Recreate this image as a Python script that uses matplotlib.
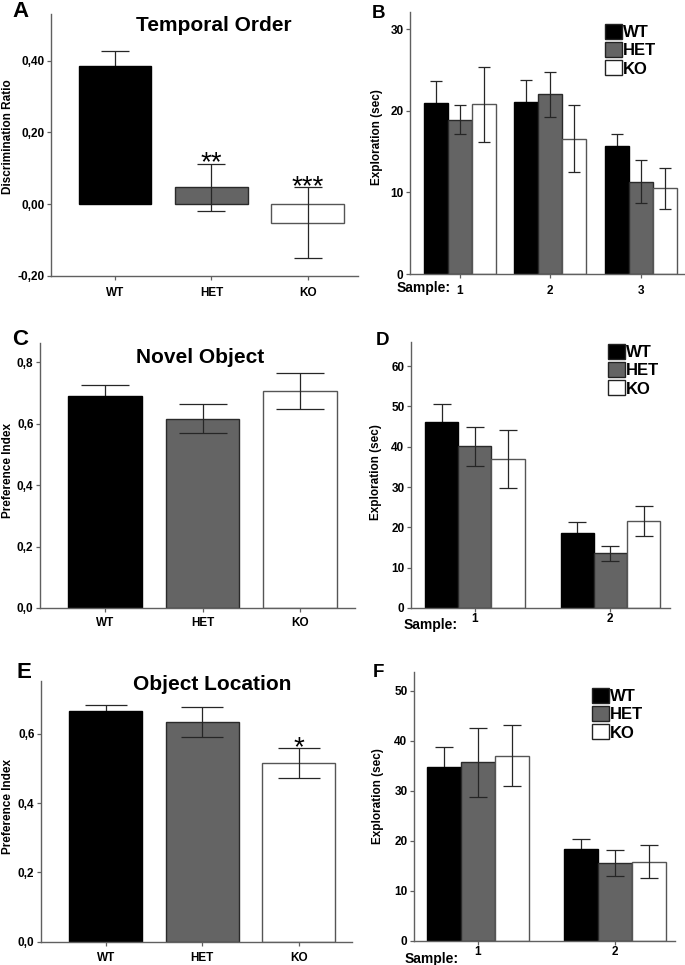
import numpy as np
import matplotlib
matplotlib.use('Agg')
import matplotlib.pyplot as plt
from matplotlib.patches import Patch

plt.rcParams['font.family'] = ['Liberation Sans', 'DejaVu Sans']
plt.rcParams['font.weight'] = 'bold'

#%% data
groups = ['WT', 'HET', 'KO']

temporal_mean = [0.385, 0.047, -0.052]
temporal_err = [0.043, 0.066, 0.099]

samples_b = ['1', '2', '3']
b_wt = [21.0, 21.1, 15.7]
b_wt_err = [2.6, 2.7, 1.4]
b_het = [18.9, 22.0, 11.3]
b_het_err = [1.8, 2.8, 2.65]
b_ko = [20.8, 16.6, 10.5]
b_ko_err = [4.6, 4.05, 2.5]

novel_mean = [0.690, 0.616, 0.706]
novel_err = [0.036, 0.048, 0.059]

samples_d = ['1', '2']
d_wt = [46.1, 18.7]
d_wt_err = [4.5, 2.7]
d_het = [40.1, 13.6]
d_het_err = [4.9, 1.85]
d_ko = [36.9, 21.5]
d_ko_err = [7.2, 3.75]

location_mean = [0.667, 0.635, 0.516]
location_err = [0.018, 0.044, 0.044]

samples_f = ['1', '2']
f_wt = [34.8, 18.3]
f_wt_err = [4.0, 2.0]
f_het = [35.7, 15.5]
f_het_err = [6.9, 2.55]
f_ko = [37.0, 15.8]
f_ko_err = [6.15, 3.35]

#%% style
W, H = 685, 965
fills = ['#000000', '#646464', '#ffffff']
edges = ['#000000', '#2a2a2a', '#555555']
err_z = [1, 3, 3]   # black bars hide the lower whisker
err_col = '#262626'
spine_col = '#606060'

fig = plt.figure(figsize=(W / 100, H / 100), dpi=100)


def make_ax(x0, x1, ytop, ybot):
    ax = fig.add_axes([x0 / W, 1 - ybot / H, (x1 - x0) / W, (ybot - ytop) / H])
    for s in ['top', 'right']:
        ax.spines[s].set_visible(False)
    for s in ['left', 'bottom']:
        ax.spines[s].set_color(spine_col)
        ax.spines[s].set_linewidth(1.0)
    ax.tick_params(colors=spine_col, labelcolor='black', length=3.2, width=0.9,
                   labelsize=8.5)
    ax.tick_params(axis='y', pad=1.5)
    return ax


def fig_text(x, y, s, **kw):
    fig.text(x / W, 1 - y / H, s, **kw)


def star(ax, x, top, s):
    ax.annotate(s, (x, top), xytext=(0, -5), textcoords='offset points',
                ha='center', va='baseline', fontsize=20, fontweight='normal')


def single_panel(ax, means, errs, capsize, ylim, yticks, fmt, xlim, pad):
    x = np.arange(len(groups))
    for i in range(len(groups)):
        ax.bar(x[i], means[i], width=0.755, color=fills[i], edgecolor=edges[i],
               linewidth=1.0, zorder=2)
        ax.errorbar(x[i], means[i], yerr=errs[i], fmt='none', ecolor=err_col,
                    elinewidth=0.9, capsize=capsize, capthick=0.9, zorder=err_z[i])
    ax.set_xlim(*xlim)
    ax.set_ylim(*ylim)
    ax.set_xticks(x)
    ax.set_xticklabels(groups)
    ax.set_yticks(yticks)
    ax.set_yticklabels([fmt.format(v).replace('.', ',') for v in yticks])
    ax.tick_params(axis='x', pad=pad)


def grouped_panel(ax, samples, series, errs, width, capsize, ylim, yticks, xlim, pad):
    x = np.arange(len(samples))
    for i in range(3):
        ax.bar(x + (i - 1) * width, series[i], width=width, color=fills[i],
               edgecolor=edges[i], linewidth=1.0, zorder=2)
        ax.errorbar(x + (i - 1) * width, series[i], yerr=errs[i], fmt='none',
                    ecolor=err_col, elinewidth=0.9, capsize=capsize, capthick=0.9,
                    zorder=err_z[i])
    ax.set_xlim(*xlim)
    ax.set_ylim(*ylim)
    ax.set_xticks(x)
    ax.set_xticklabels(samples)
    ax.set_yticks(yticks)
    ax.set_yticklabels([str(v) for v in yticks])
    ax.tick_params(axis='x', pad=pad)


def legend(ax, x, y):
    handles = [Patch(facecolor=fills[i], edgecolor='#222222', linewidth=1.0)
               for i in range(3)]
    ax.legend(handles, groups, loc='upper left', bbox_to_anchor=(x / W, 1 - y / H),
              bbox_transform=fig.transFigure, frameon=False, borderpad=0,
              borderaxespad=0, handlelength=1.0, handleheight=1.0,
              handletextpad=0.05, labelspacing=0.12,
              prop={'size': 12, 'weight': 'bold'})


#%% A
axA = make_ax(51, 358, 14, 276)
single_panel(axA, temporal_mean, temporal_err, 10, (-0.2, 0.53),
             [-0.2, 0.0, 0.2, 0.4], '{:.2f}', (-0.663, 2.52), 5)
star(axA, 1, temporal_mean[1] + temporal_err[1], '**')
star(axA, 2, temporal_mean[2] + temporal_err[2], '***')
fig_text(214, 31, 'Temporal Order', ha='center', va='baseline', fontsize=15)
fig_text(12, 17, 'A', ha='left', va='baseline', fontsize=16)
fig_text(8, 137, 'Discrimination Ratio', rotation=90, ha='center', va='center',
         fontsize=8.5)

#%% B
axB = make_ax(410, 685, 12, 274)
grouped_panel(axB, samples_b, [b_wt, b_het, b_ko], [b_wt_err, b_het_err, b_ko_err],
              0.265, 4.5, (0, 32.1), [0, 10, 20, 30], (-0.55, 2.49), 5)
legend(axB, 605, 24)
fig_text(372, 18, 'B', ha='left', va='baseline', fontsize=13.5)
fig_text(377, 137, 'Exploration (sec)', rotation=90, ha='center', va='center',
         fontsize=8.5)
fig_text(397, 292, 'Sample:', ha='left', va='baseline', fontsize=10)

#%% C
axC = make_ax(40, 355, 343, 608)
single_panel(axC, novel_mean, novel_err, 17, (0, 0.862),
             [0.0, 0.2, 0.4, 0.6, 0.8], '{:.1f}', (-0.667, 2.564), 3.5)
fig_text(200, 363, 'Novel Object', ha='center', va='baseline', fontsize=15)
fig_text(12, 345, 'C', ha='left', va='baseline', fontsize=16)
fig_text(8, 471, 'Preference Index', rotation=90, ha='center', va='center',
         fontsize=8.5)

#%% D
axD = make_ax(411, 670, 342, 608)
grouped_panel(axD, samples_d, [d_wt, d_het, d_ko], [d_wt_err, d_het_err, d_ko_err],
              0.245, 6.5, (0, 66), [0, 10, 20, 30, 40, 50, 60], (-0.47, 1.44), 0.5)
legend(axD, 608, 344)
fig_text(376, 345, 'D', ha='left', va='baseline', fontsize=13.5)
fig_text(376, 472, 'Exploration (sec)', rotation=90, ha='center', va='center',
         fontsize=8.5)
fig_text(404, 629, 'Sample:', ha='left', va='baseline', fontsize=10)

#%% E
axE = make_ax(41, 352, 681, 941.7)
single_panel(axE, location_mean, location_err, 15, (0, 0.753),
             [0.0, 0.2, 0.4, 0.6], '{:.1f}', (-0.67, 2.55), 4.3)
star(axE, 2, location_mean[2] + location_err[2], '*')
fig_text(212, 690, 'Object Location', ha='center', va='baseline', fontsize=15)
fig_text(17, 678, 'E', ha='left', va='baseline', fontsize=16)
fig_text(8, 807, 'Preference Index', rotation=90, ha='center', va='center',
         fontsize=8.5)

#%% F
axF = make_ax(414, 675, 671.7, 940.7)
grouped_panel(axF, samples_f, [f_wt, f_het, f_ko], [f_wt_err, f_het_err, f_ko_err],
              0.246, 6.5, (0, 53.8), [0, 10, 20, 30, 40, 50], (-0.467, 1.438), 0.5)
legend(axF, 592, 688)
fig_text(373, 677, 'F', ha='left', va='baseline', fontsize=13.5)
fig_text(378, 796, 'Exploration (sec)', rotation=90, ha='center', va='center',
         fontsize=8.5)
fig_text(405, 963, 'Sample:', ha='left', va='baseline', fontsize=10)

fig.savefig('out.png', dpi=100)
